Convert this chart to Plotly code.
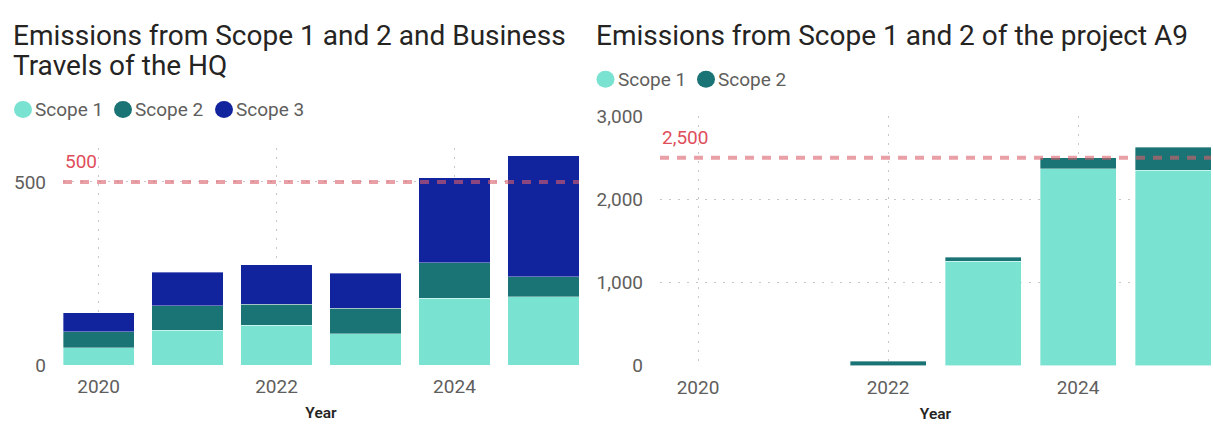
import plotly.graph_objects as go

# ---- data -------------------------------------------------------------
years = [2020, 2021, 2022, 2023, 2024, 2025]

hq_scope1 = [47, 95, 109, 85, 182, 187]
hq_scope2 = [44, 67, 57, 70, 97, 54]
hq_scope3 = [52, 92, 108, 96, 233, 330]
hq_target = 500

a9_scope1 = [None, None, 0, 1256, 2364, 2346]
a9_scope2 = [None, None, 55, 46, 133, 280]
a9_target = 2500

year_ticks = [2020, 2022, 2024]
hq_yticks = [0, 500]
a9_yticks = [0, 1000, 2000, 3000]

# ---- style ------------------------------------------------------------
W, H = 1213, 433
FONT = "Roboto"
C1, C2, C3 = "#7AE2D1", "#1A7374", "#12239E"
GRID = "#C8C6C4"
TICK = "#605E5C"
DARK = "#252423"
REF_LINE = "rgba(218,95,106,0.6)"
REF_TEXT = "#DF4E5B"


def px(x):
    return x / W


def py(y):
    return 1 - y / H


bar_line = dict(color="rgba(255,255,255,0.45)", width=0.8)

fig = go.Figure()

# left panel: HQ
for name, vals, col in [("Scope 1", hq_scope1, C1), ("Scope 2", hq_scope2, C2),
                        ("Scope 3", hq_scope3, C3)]:
    fig.add_trace(go.Bar(x=years, y=vals, name=name, marker=dict(color=col, line=bar_line),
                         xaxis="x", yaxis="y", showlegend=False))

# right panel: project A9
for name, vals, col in [("Scope 1", a9_scope1, C1), ("Scope 2", a9_scope2, C2)]:
    fig.add_trace(go.Bar(x=years, y=vals, name=name, marker=dict(color=col, line=bar_line),
                         xaxis="x2", yaxis="y2", showlegend=False))

common_x = dict(
    range=[2019.6, 2025.4], tickvals=year_ticks, showgrid=True, gridcolor=GRID,
    griddash="2px,7px", gridwidth=1, zeroline=False, showline=False, ticks="",
    tickfont=dict(family=FONT, size=19, color=TICK), ticklabelstandoff=8,
    title=dict(text="Year", font=dict(family=FONT, size=15.5, color=DARK, weight=600),
               standoff=10),
)
common_y = dict(
    showgrid=True, gridcolor=GRID, griddash="2px,7px", gridwidth=1, zeroline=False,
    showline=False, ticks="", tickfont=dict(family=FONT, size=19, color=TICK),
    tickformat=",", ticklabelstandoff=16,
)

fig.update_layout(
    width=W, height=H, margin=dict(l=0, r=0, t=0, b=0),
    paper_bgcolor="white", plot_bgcolor="white",
    barmode="stack", bargap=0.2,
    font=dict(family=FONT),
    xaxis=dict(domain=[px(63), px(579)], anchor="y", **common_x),
    yaxis=dict(domain=[py(374), py(145)], anchor="x", range=[0, 592],
               tickvals=hq_yticks, **common_y),
    xaxis2=dict(domain=[px(660), px(1211)], anchor="y2", **common_x),
    yaxis2=dict(domain=[py(374.5), py(111)], anchor="x2", range=[0, 3000],
                tickvals=a9_yticks, **common_y),
)

# target lines with their labels
for xa, ya, val in [("x", "y", hq_target), ("x2", "y2", a9_target)]:
    fig.add_shape(type="line", xref=f"{xa} domain", yref=ya, x0=0, x1=1, y0=val, y1=val,
                  line=dict(color=REF_LINE, width=4, dash="9px,8px"), layer="above")
    fig.add_annotation(xref=f"{xa} domain", yref=ya, x=0, y=val, text=f"{val:,}",
                       showarrow=False, xanchor="left", yanchor="bottom", yshift=7,
                       font=dict(family=FONT, size=19, color=REF_TEXT))

# panel titles (one annotation per line)
title_lines = [
    (11, 25.5, "Emissions from Scope 1 and 2 and Business"),
    (11, 58, "Travels of the HQ"),
    (594, 25.5, "Emissions from Scope 1 and 2 of the project A9"),
]
for tx, ty, text in title_lines:
    fig.add_annotation(xref="paper", yref="paper", x=px(tx), y=py(ty), xanchor="left",
                       yanchor="middle", align="left", showarrow=False, text=text,
                       font=dict(family=FONT, size=28, color=DARK))

# legends: colour dot followed by series name
legend_items = [
    (23, 104, C1, "Scope 1"), (123, 104, C2, "Scope 2"), (224, 104, C3, "Scope 3"),
    (605.5, 72, C1, "Scope 1"), (706, 72, C2, "Scope 2"),
]
R = 9
for cx, cy, col, label in legend_items:
    fig.add_shape(type="circle", xref="paper", yref="paper",
                  x0=px(cx - R), x1=px(cx + R), y0=py(cy + R), y1=py(cy - R),
                  fillcolor=col, line=dict(width=0))
    fig.add_annotation(xref="paper", yref="paper", x=px(cx + R + 1), y=py(cy),
                       xanchor="left", yanchor="middle", showarrow=False, text=label,
                       font=dict(family=FONT, size=19, color=TICK))

fig.write_html("out.html")
